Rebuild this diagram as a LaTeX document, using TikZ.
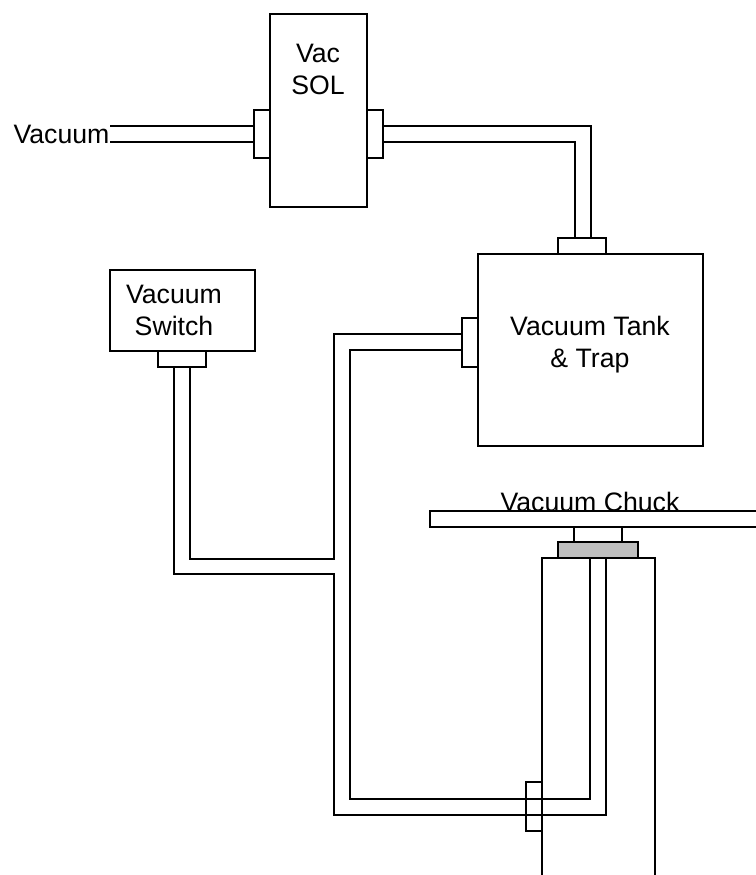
\documentclass[tikz,border=0pt]{standalone}
\usepackage{fontspec}
\setmainfont{Liberation Sans}
\tikzset{
  partbox/.style  = {rectangle, draw=black, line width=1.5pt, inner sep=0pt,
                     outer sep=0pt, line join=miter},
  pipe/.style     = {draw=black, line width=1.5pt, line join=miter},
  partlab/.style  = {font=\fontsize{20}{24}\selectfont, text=black,
                     inner sep=0pt, anchor=base, align=center},
}
\begin{document}
\begin{tikzpicture}[x=0.75pt, y=-0.75pt]
  \useasboundingbox (0,0) rectangle (756,875);
  % boxes
  \node[partbox, minimum width=72.4pt, minimum height=144.4pt] (sol) at (318.3,110.3) {};
  \node[partbox, minimum width=12pt, minimum height=36pt] (solin) at (262,134) {};
  \node[partbox, minimum width=12pt, minimum height=36pt] (solout) at (374.5,134) {};
  \node[partbox, minimum width=168.5pt, minimum height=144pt] (tank) at (590.3,350) {};
  \node[partbox, minimum width=36.5pt, minimum height=12pt] (tanktop) at (582,246) {};
  \node[partbox, minimum width=12pt, minimum height=36.5pt] (tankside) at (470,342.3) {};
  \node[partbox, minimum width=108.5pt, minimum height=60.5pt] (switch) at (182.3,310.3) {};
  \node[partbox, minimum width=36.5pt, minimum height=12pt] (switchport) at (182,358.7) {};
  \node[partbox, minimum width=12pt, minimum height=36.5pt] (collar) at (534,806.5) {};
  \node[partbox, fill=black!25, minimum width=60pt, minimum height=12pt] (seal) at (598,550.3) {};
  % chuck and pedestal
  \draw[pipe] (756,510.7) -- (430,510.7) -- (430,526.7) -- (756,526.7);
  \draw[pipe] (574,526.7) -- (574,542.3) (622,526.7) -- (622,542.3);
  \draw[pipe] (542,875) -- (542,558.3) -- (654.7,558.3) -- (654.7,875);
  % pipes
  \coordinate (inlet) at (110,134);
  \draw[pipe] (inlet |- 0,126) -- (solin.west |- 0,126);
  \draw[pipe] (inlet |- 0,142) -- (solin.west |- 0,142);
  \draw[pipe] (solout.east |- 0,126) -- (590.5,126) -- (590.5,238);
  \draw[pipe] (solout.east |- 0,142) -- (574.5,142) -- (574.5,238);
  \draw[pipe] (tankside.west |- 0,334.3) -- (334,334.3) -- (334,559) -- (190,559) -- (190,366.7);
  \draw[pipe] (tankside.west |- 0,350.3) -- (350,350.3) -- (350,799) -- (590,799) -- (590,558.3);
  \draw[pipe] (174,366.7) -- (174,574.3) -- (334,574.3) -- (334,815) -- (606,815) -- (606,558.3);
  % labels
  \node[partlab] (sollab) at (318,94) {Vac\\SOL};
  \node[partlab] (inletlab) at (61.5,143) {Vacuum};
  \node[partlab] (switchlab) at (174,335) {Vacuum\\Switch};
  \node[partlab] (tanklab) at (590,367) {Vacuum Tank\\\& Trap};
  \node[partlab] (chucklab) at (590,511.5) {Vacuum Chuck};
\end{tikzpicture}
\end{document}
